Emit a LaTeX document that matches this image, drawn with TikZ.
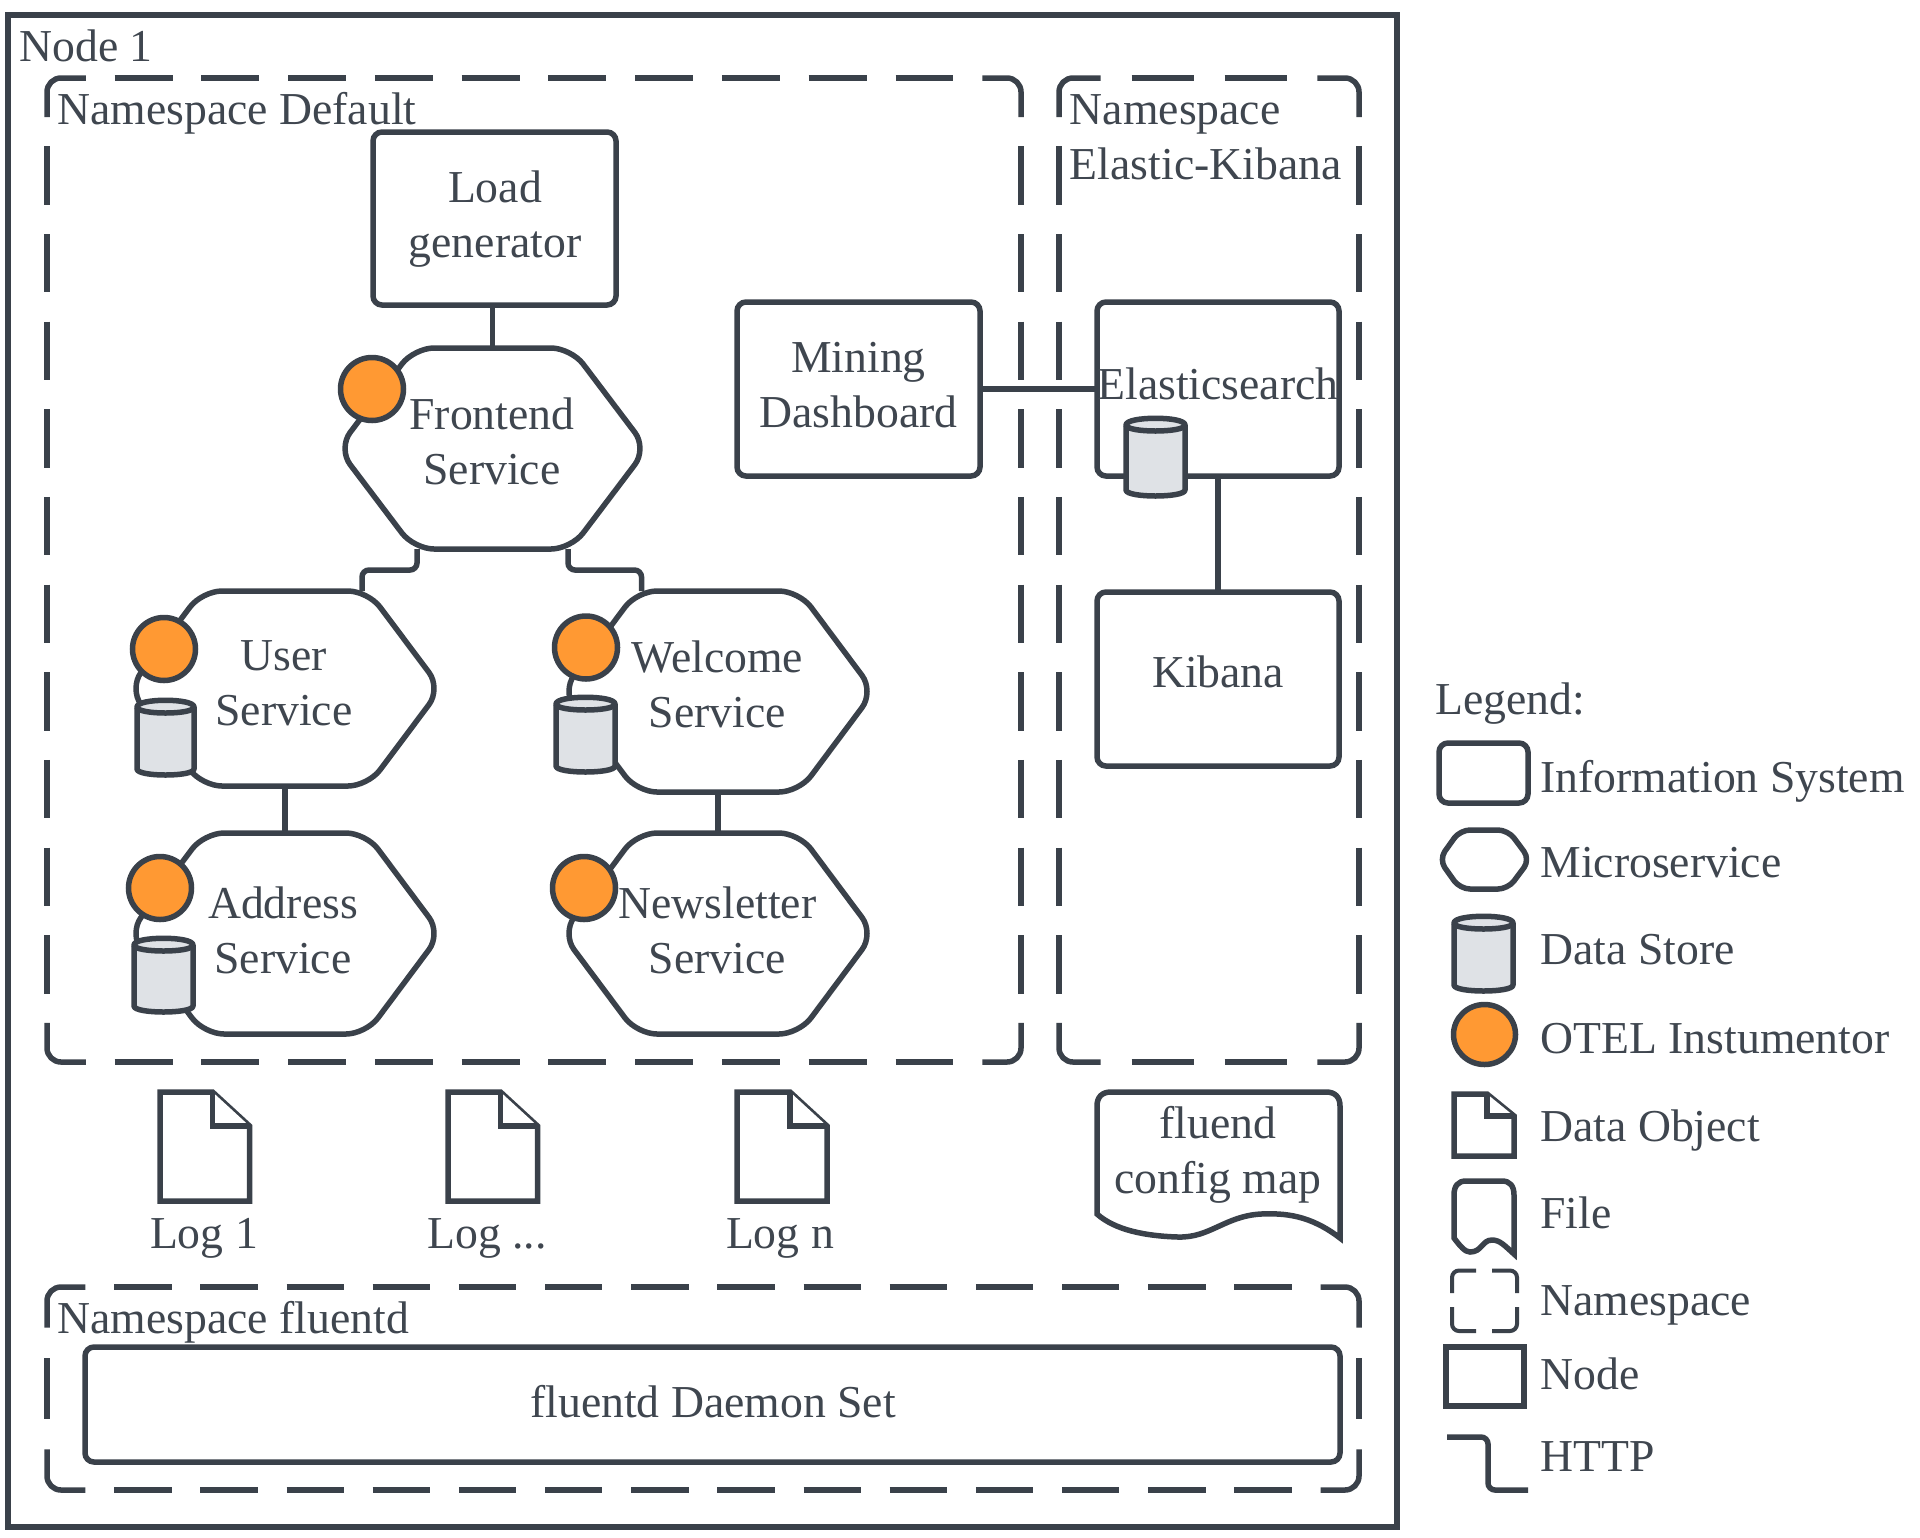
\documentclass[tikz,border=0pt]{standalone}
\usepackage{fontspec}
\usetikzlibrary{shapes.geometric}
\setmainfont{Liberation Serif}
\definecolor{ink}{HTML}{3A414A}
\definecolor{txt}{HTML}{3F464F}
\definecolor{orng}{HTML}{FF9933}
\definecolor{stor}{HTML}{DFE2E6}
\tikzset{
  lw/.style={line width=2.75pt,draw=ink},
  sys/.style={lw,rectangle,rounded corners=4.5pt,fill=white,inner sep=0pt,outer sep=0pt},
  sharpbox/.style={lw,line width=3pt,rectangle,inner sep=0pt,outer sep=0pt},
  nscorner/.style={lw,rounded corners=7pt},
  hexl/.style={lw,fill=white,line join=round},
  conn/.style={lw,rounded corners=3.5pt},
  otel/.style={lw,circle,fill=orng,inner sep=0pt,outer sep=0pt,minimum size=31.5pt},
  doc/.style={lw,fill=white,line join=miter},
  lbl/.style={font=\fontsize{22.85}{27.5}\selectfont,text=txt,align=center,inner sep=0pt,anchor=base},
  lbll/.style={font=\fontsize{22.85}{27.5}\selectfont,text=txt,inner sep=0pt,anchor=base west},
}
% style, name, x1, y1, x2, y2 in picture pixels
\newcommand{\pxbox}[6]{%
  \pgfmathsetlengthmacro\myw{(#5-#3)*0.5pt}%
  \pgfmathsetlengthmacro\myh{(#6-#4)*0.5pt}%
  \node[#1,minimum width=\myw,minimum height=\myh] (#2) at ({(#3+#5)/2},{(#4+#6)/2}) {};%
}
% name, cx, y1, y2, half width, inset, corner radius
\newcommand{\hexa}[7]{%
  \path[hexl,rounded corners=#7pt,draw=ink] ({#2},{#3}) -- ({#2+#5-#6},{#3}) -- ({#2+#5},{(#3+#4)/2}) -- ({#2+#5-#6},{#4}) -- ({#2-#5+#6},{#4}) -- ({#2-#5},{(#3+#4)/2}) -- ({#2-#5+#6},{#3}) -- cycle;%
  \pgfmathsetlengthmacro\myw{#5*1pt}%
  \pgfmathsetlengthmacro\myh{(#4-#3)*0.5pt}%
  \node[inner sep=0pt,outer sep=0pt,minimum width=\myw,minimum height=\myh] (#1) at ({#2},{(#3+#4)/2}) {};%
}
% x1, y1, x2, y2 outer centre lines
\newcommand{\cyl}[4]{%
  \path[lw,fill=stor,line join=round] (#1,{#2+7}) -- (#1,{#4-7}) .. controls (#1,{#4+1}) and ({#3},{#4+1}) .. (#3,{#4-7}) -- (#3,{#2+7}) .. controls (#3,{#2-2}) and (#1,{#2-2}) .. (#1,{#2+7}) -- cycle;%
  \draw[lw] (#1,{#2+7}) .. controls (#1,{#2+15}) and (#3,{#2+15}) .. (#3,{#2+7});%
}
% x1, y1, x2, y2, fold width, fold height
\newcommand{\dataobj}[6]{%
  \path[doc] (#1,#2) -- ({#3-#5},#2) -- (#3,{#2+#6}) -- (#3,#4) -- (#1,#4) -- cycle;%
  \draw[doc] ({#3-#5},#2) -- ({#3-#5},{#2+#6}) -- (#3,{#2+#6});%
}
% x1, y1, x2, y2, dashes across, dashes down
\newcommand{\nsbox}[6]{%
  \pgfmathsetmacro\nsDh{(#3-#1)/(1.84+1.5*#5)}%
  \pgfmathsetmacro\nsDv{(#4-#2)/(1.84+1.5*#6)}%
  \pgfmathsetmacro\nsHh{0.67*\nsDh}%
  \pgfmathsetmacro\nsHv{0.67*\nsDv}%
  \pgfmathsetmacro\nsPh{\nsHh+0.5*\nsDh}%
  \pgfmathsetmacro\nsPv{\nsHv+0.5*\nsDv}%
  \pgfmathsetlengthmacro\nsDhl{\nsDh*0.5pt}%
  \pgfmathsetlengthmacro\nsGhl{\nsDh*0.25pt}%
  \pgfmathsetlengthmacro\nsDvl{\nsDv*0.5pt}%
  \pgfmathsetlengthmacro\nsGvl{\nsDv*0.25pt}%
  \draw[nscorner] ({#1+\nsHh},#2) -- (#1,#2) -- (#1,{#2+\nsHv});%
  \draw[nscorner] ({#3-\nsHh},#2) -- (#3,#2) -- (#3,{#2+\nsHv});%
  \draw[nscorner] ({#1+\nsHh},#4) -- (#1,#4) -- (#1,{#4-\nsHv});%
  \draw[nscorner] ({#3-\nsHh},#4) -- (#3,#4) -- (#3,{#4-\nsHv});%
  \draw[lw,dash pattern=on \nsDhl off \nsGhl] ({#1+\nsPh},#2) -- ({#3-\nsPh},#2);%
  \draw[lw,dash pattern=on \nsDhl off \nsGhl] ({#1+\nsPh},#4) -- ({#3-\nsPh},#4);%
  \draw[lw,dash pattern=on \nsDvl off \nsGvl] (#1,{#2+\nsPv}) -- (#1,{#4-\nsPv});%
  \draw[lw,dash pattern=on \nsDvl off \nsGvl] (#3,{#2+\nsPv}) -- (#3,{#4-\nsPv});%
}
\begin{document}
\begin{tikzpicture}[x=0.5pt,y=-0.5pt]
\useasboundingbox (0,0) rectangle (1920,1537);
% Node and namespaces
\pxbox{sharpbox}{node1}{8}{15}{1397}{1527}
\nsbox{47}{78}{1021}{1062}{10}{10}
\nsbox{1059}{78}{1359}{1062}{2}{10}
\nsbox{47}{1287}{1359}{1490}{14}{1}
\node[lbll] (tnode) at (19,61) {Node 1};
\node[lbll] (tdef) at (57,124) {Namespace Default};
\node[lbl,anchor=base west,align=left] (tek) at (1069.5,179) {Namespace\\Elastic-Kibana};
\node[lbll] (tflu) at (57,1333) {Namespace fluentd};
% Microservices
\hexa{front}{492.5}{348}{549}{154.5}{76}{10}
\hexa{user}{285}{591}{786}{156}{73}{10}
\hexa{addr}{285}{833}{1034}{156}{75}{10}
\hexa{welc}{718}{591}{792}{156}{75}{10}
\hexa{news}{718}{833}{1034}{156}{75}{10}
% Information systems
\pxbox{sys}{load}{373}{132}{616}{305}
\pxbox{sys}{mining}{737}{302}{980}{476}
\pxbox{sys}{elastic}{1097}{302}{1339}{476}
\pxbox{sys}{kibana}{1097}{592}{1339}{766}
\pxbox{sys}{daemon}{85}{1347}{1340}{1462}
% Connectors
\coordinate (midy) at (0,570);
\coordinate (fl) at (417,549);
\coordinate (fr) at (568,549);
\coordinate (ut) at (362,591);
\coordinate (wt) at (641.5,591);
\coordinate (esy) at (0,389);
\draw[conn] (front.north |- load.south) -- (front.north);
\draw[conn] (user.south) -- (addr.north);
\draw[conn] (welc.south) -- (news.north);
\draw[conn] (fl) -- (fl |- midy) -- (ut |- midy) -- (ut);
\draw[conn] (fr) -- (fr |- midy) -- (wt |- midy) -- (wt);
\draw[conn] (mining.east |- esy) -- (elastic.west |- esy);
\draw[conn] (elastic.south) -- (kibana.north);
% Instrumentors
\node[otel] (o1) at (372,389) {};
\node[otel] (o2) at (164,649) {};
\node[otel] (o3) at (586,647.5) {};
\node[otel] (o4) at (160,888) {};
\node[otel] (o5) at (584,888) {};
% Data stores
\cyl{137}{700}{194}{776}
\cyl{556}{697}{615}{773}
\cyl{134}{938}{193}{1013}
\cyl{1126}{418}{1185}{497}
% Texts
\node[lbl] (tload) at (495,257) {Load\\generator};
\node[lbl] (tfront) at (492,484) {Frontend\\Service};
\node[lbl] (tuser) at (284,725) {User\\Service};
\node[lbl] (tweb) at (717.5,727) {Welcome\\Service};
\node[lbl] (taddr) at (283,973.5) {Address\\Service};
\node[lbl] (tnews) at (717.5,973.5) {Newsletter\\Service};
\node[lbl] (tmin) at (858.5,427.5) {Mining\\Dashboard};
\node[lbl] (tel) at (1218,399) {Elasticsearch};
\node[lbl] (tkib) at (1218,687.5) {Kibana};
\node[lbl] (tdaemon) at (713,1417) {fluentd Daemon Set};
% Logs
\dataobj{160}{1092}{249.5}{1201}{37}{34}
\dataobj{448}{1092}{537.5}{1201}{37}{34}
\dataobj{737}{1092}{827}{1201}{37}{34}
\node[lbl] (tl1) at (204,1248) {Log 1};
\node[lbl] (tl2) at (487,1248) {Log ...};
\node[lbl] (tl3) at (780,1248) {Log n};
% Config map
\path[lw,fill=white,line join=miter] (1097,1214) -- (1097,1106) .. controls (1097,1097) and (1102,1092) .. (1111,1092) -- (1326,1092) .. controls (1335,1092) and (1340,1097) .. (1340,1106) -- (1340,1238) .. controls (1310,1215) and (1285,1213) .. (1261,1214) .. controls (1225,1216) and (1210,1238) .. (1178,1237) .. controls (1145,1236) and (1115,1230) .. (1097,1214) -- cycle;
\node[lbl] (tcfg) at (1218,1193) {fluend\\config map};
% Legend
\node[lbll] (tleg) at (1435,714) {Legend:};
\pxbox{sys}{lsys}{1439}{743}{1528}{803}
\path[hexl,rounded corners=5pt,draw=ink] (1483,830) -- (1508,830) -- (1530,859.5) -- (1508,889) -- (1460,889) -- (1439,859.5) -- (1460,830) -- cycle;
\cyl{1454}{916}{1513}{992}
\node[otel,ellipse,minimum width=31pt,minimum height=30pt] (lo) at (1484.5,1034.5) {};
\dataobj{1454}{1094}{1514}{1156}{27}{22}
\path[lw,fill=white,line join=miter] (1454,1238) -- (1454,1195) .. controls (1454,1186) and (1458,1181) .. (1466,1181) -- (1502,1181) .. controls (1510,1181) and (1514,1186) .. (1514,1195) -- (1514,1254) .. controls (1505,1246) and (1500,1240) .. (1492,1240) .. controls (1482,1240) and (1482,1252) .. (1470,1252) .. controls (1465,1252) and (1460,1246) .. (1454,1238) -- cycle;
\draw[conn,line width=2pt] (1476,1270.5) -- (1452,1270.5) -- (1452,1293);
\draw[conn,line width=2pt] (1492,1270.5) -- (1517,1270.5) -- (1517,1293);
\draw[conn,line width=2pt] (1452,1307) -- (1452,1331) -- (1476,1331);
\draw[conn,line width=2pt] (1492,1331) -- (1517,1331) -- (1517,1307);
\pxbox{sharpbox}{lnode}{1446}{1347}{1524}{1406}
\coordinate (ha) at (1447,1437);
\coordinate (hb) at (1528,1490);
\draw[conn] (ha) -- (1488,1437) -- (1488,1490) -- (hb);
\node[lbll] (l1) at (1540,792) {Information System};
\node[lbll] (l2) at (1540,877) {Microservice};
\node[lbll] (l3) at (1540,964) {Data Store};
\node[lbll] (l4) at (1540,1053) {OTEL Instumentor};
\node[lbll] (l5) at (1540,1141) {Data Object};
\node[lbll] (l6) at (1540,1228) {File};
\node[lbll] (l7) at (1540,1315.5) {Namespace};
\node[lbll] (l8) at (1540,1389) {Node};
\node[lbll] (l9) at (1540,1471) {HTTP};
\end{tikzpicture}
\end{document}
